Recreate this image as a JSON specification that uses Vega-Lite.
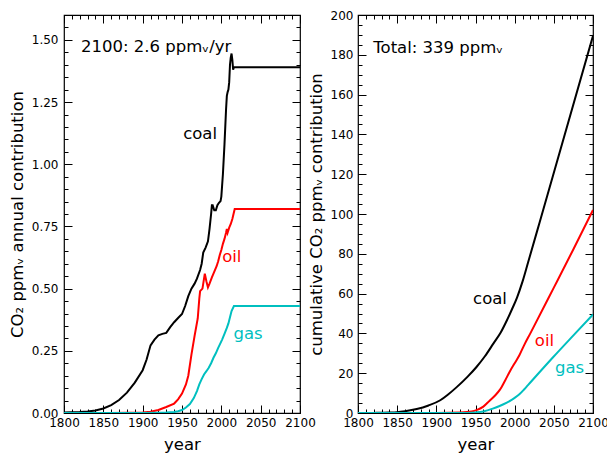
{
  "$schema": "https://vega.github.io/schema/vega-lite/v6.json",
  "background": "white",
  "padding": {"left": 8, "top": 8, "right": 0, "bottom": 0},
  "config": {
    "font": "DejaVu Sans",
    "view": {"stroke": "black", "strokeWidth": 1.2},
    "axis": {
      "domain": false, "grid": false,
      "tickColor": "black", "tickWidth": 1,
      "labelColor": "black", "labelFontSize": 12, "labelFont": "DejaVu Sans",
      "titleFont": "DejaVu Sans", "titleFontSize": 16.5, "titleFontWeight": "normal", "titleColor": "black",
      "labelOverlap": false, "labelFlush": false
    },
    "text": {"font": "DejaVu Sans", "fontSize": 16.5}
  },
  "datasets": {
    "annual": [
      {"fuel": "coal", "year": 1800, "value": 0.002},
      {"fuel": "coal", "year": 1810, "value": 0.003},
      {"fuel": "coal", "year": 1820, "value": 0.004},
      {"fuel": "coal", "year": 1830, "value": 0.006},
      {"fuel": "coal", "year": 1840, "value": 0.010},
      {"fuel": "coal", "year": 1850, "value": 0.018},
      {"fuel": "coal", "year": 1860, "value": 0.032},
      {"fuel": "coal", "year": 1870, "value": 0.052},
      {"fuel": "coal", "year": 1880, "value": 0.082},
      {"fuel": "coal", "year": 1890, "value": 0.122},
      {"fuel": "coal", "year": 1900, "value": 0.172},
      {"fuel": "coal", "year": 1905, "value": 0.215},
      {"fuel": "coal", "year": 1910, "value": 0.272},
      {"fuel": "coal", "year": 1915, "value": 0.295},
      {"fuel": "coal", "year": 1920, "value": 0.312},
      {"fuel": "coal", "year": 1925, "value": 0.318},
      {"fuel": "coal", "year": 1930, "value": 0.322},
      {"fuel": "coal", "year": 1935, "value": 0.345},
      {"fuel": "coal", "year": 1940, "value": 0.365},
      {"fuel": "coal", "year": 1945, "value": 0.382},
      {"fuel": "coal", "year": 1950, "value": 0.398},
      {"fuel": "coal", "year": 1954, "value": 0.43},
      {"fuel": "coal", "year": 1958, "value": 0.47},
      {"fuel": "coal", "year": 1962, "value": 0.50},
      {"fuel": "coal", "year": 1966, "value": 0.52},
      {"fuel": "coal", "year": 1969, "value": 0.54},
      {"fuel": "coal", "year": 1973, "value": 0.575},
      {"fuel": "coal", "year": 1975, "value": 0.60},
      {"fuel": "coal", "year": 1977, "value": 0.645},
      {"fuel": "coal", "year": 1980, "value": 0.665},
      {"fuel": "coal", "year": 1983, "value": 0.69},
      {"fuel": "coal", "year": 1985, "value": 0.74},
      {"fuel": "coal", "year": 1987, "value": 0.80},
      {"fuel": "coal", "year": 1988, "value": 0.835},
      {"fuel": "coal", "year": 1989, "value": 0.835},
      {"fuel": "coal", "year": 1991, "value": 0.815},
      {"fuel": "coal", "year": 1993, "value": 0.815},
      {"fuel": "coal", "year": 1995, "value": 0.835},
      {"fuel": "coal", "year": 1997, "value": 0.845},
      {"fuel": "coal", "year": 1999, "value": 0.852},
      {"fuel": "coal", "year": 2000, "value": 0.87},
      {"fuel": "coal", "year": 2002, "value": 0.96},
      {"fuel": "coal", "year": 2004, "value": 1.08},
      {"fuel": "coal", "year": 2006, "value": 1.22},
      {"fuel": "coal", "year": 2007, "value": 1.275},
      {"fuel": "coal", "year": 2008, "value": 1.29},
      {"fuel": "coal", "year": 2009, "value": 1.30},
      {"fuel": "coal", "year": 2010, "value": 1.33},
      {"fuel": "coal", "year": 2011, "value": 1.40},
      {"fuel": "coal", "year": 2012, "value": 1.43},
      {"fuel": "coal", "year": 2013, "value": 1.445},
      {"fuel": "coal", "year": 2014, "value": 1.42},
      {"fuel": "coal", "year": 2015, "value": 1.38},
      {"fuel": "coal", "year": 2016, "value": 1.39},
      {"fuel": "coal", "year": 2100, "value": 1.39},
      {"fuel": "oil", "year": 1800, "value": 0},
      {"fuel": "oil", "year": 1860, "value": 0},
      {"fuel": "oil", "year": 1880, "value": 0.001},
      {"fuel": "oil", "year": 1900, "value": 0.002},
      {"fuel": "oil", "year": 1910, "value": 0.005},
      {"fuel": "oil", "year": 1920, "value": 0.012},
      {"fuel": "oil", "year": 1930, "value": 0.024},
      {"fuel": "oil", "year": 1940, "value": 0.038},
      {"fuel": "oil", "year": 1945, "value": 0.055},
      {"fuel": "oil", "year": 1950, "value": 0.078},
      {"fuel": "oil", "year": 1955, "value": 0.115},
      {"fuel": "oil", "year": 1958, "value": 0.15},
      {"fuel": "oil", "year": 1962, "value": 0.235},
      {"fuel": "oil", "year": 1966, "value": 0.31},
      {"fuel": "oil", "year": 1970, "value": 0.38},
      {"fuel": "oil", "year": 1972, "value": 0.46},
      {"fuel": "oil", "year": 1973, "value": 0.49},
      {"fuel": "oil", "year": 1976, "value": 0.50},
      {"fuel": "oil", "year": 1979, "value": 0.56},
      {"fuel": "oil", "year": 1981, "value": 0.53},
      {"fuel": "oil", "year": 1983, "value": 0.505},
      {"fuel": "oil", "year": 1985, "value": 0.52},
      {"fuel": "oil", "year": 1988, "value": 0.545},
      {"fuel": "oil", "year": 1990, "value": 0.56},
      {"fuel": "oil", "year": 1992, "value": 0.575},
      {"fuel": "oil", "year": 1994, "value": 0.59},
      {"fuel": "oil", "year": 1996, "value": 0.61},
      {"fuel": "oil", "year": 1998, "value": 0.635},
      {"fuel": "oil", "year": 2000, "value": 0.655},
      {"fuel": "oil", "year": 2002, "value": 0.68},
      {"fuel": "oil", "year": 2004, "value": 0.70},
      {"fuel": "oil", "year": 2006, "value": 0.725},
      {"fuel": "oil", "year": 2007, "value": 0.74},
      {"fuel": "oil", "year": 2008, "value": 0.725},
      {"fuel": "oil", "year": 2010, "value": 0.745},
      {"fuel": "oil", "year": 2012, "value": 0.76},
      {"fuel": "oil", "year": 2014, "value": 0.78},
      {"fuel": "oil", "year": 2017, "value": 0.82},
      {"fuel": "oil", "year": 2100, "value": 0.82},
      {"fuel": "gas", "year": 1800, "value": 0},
      {"fuel": "gas", "year": 1900, "value": 0},
      {"fuel": "gas", "year": 1920, "value": 0.001},
      {"fuel": "gas", "year": 1930, "value": 0.002},
      {"fuel": "gas", "year": 1940, "value": 0.004},
      {"fuel": "gas", "year": 1945, "value": 0.007},
      {"fuel": "gas", "year": 1950, "value": 0.012},
      {"fuel": "gas", "year": 1955, "value": 0.022},
      {"fuel": "gas", "year": 1960, "value": 0.036},
      {"fuel": "gas", "year": 1965, "value": 0.06},
      {"fuel": "gas", "year": 1969, "value": 0.088},
      {"fuel": "gas", "year": 1972, "value": 0.115},
      {"fuel": "gas", "year": 1975, "value": 0.136},
      {"fuel": "gas", "year": 1978, "value": 0.155},
      {"fuel": "gas", "year": 1981, "value": 0.168},
      {"fuel": "gas", "year": 1984, "value": 0.182},
      {"fuel": "gas", "year": 1987, "value": 0.20},
      {"fuel": "gas", "year": 1990, "value": 0.222},
      {"fuel": "gas", "year": 1993, "value": 0.24},
      {"fuel": "gas", "year": 1996, "value": 0.262},
      {"fuel": "gas", "year": 1998, "value": 0.275},
      {"fuel": "gas", "year": 2001, "value": 0.295},
      {"fuel": "gas", "year": 2004, "value": 0.318},
      {"fuel": "gas", "year": 2007, "value": 0.342},
      {"fuel": "gas", "year": 2009, "value": 0.36},
      {"fuel": "gas", "year": 2011, "value": 0.385},
      {"fuel": "gas", "year": 2013, "value": 0.41},
      {"fuel": "gas", "year": 2016, "value": 0.43},
      {"fuel": "gas", "year": 2100, "value": 0.43}
    ],
    "cumulative": [
      {"fuel": "coal", "year": 1800, "value": 0},
      {"fuel": "coal", "year": 1820, "value": 0.05},
      {"fuel": "coal", "year": 1840, "value": 0.2},
      {"fuel": "coal", "year": 1850, "value": 0.4},
      {"fuel": "coal", "year": 1860, "value": 0.9},
      {"fuel": "coal", "year": 1875, "value": 2.0},
      {"fuel": "coal", "year": 1890, "value": 3.8},
      {"fuel": "coal", "year": 1905, "value": 6.4},
      {"fuel": "coal", "year": 1915, "value": 9.3},
      {"fuel": "coal", "year": 1926, "value": 13},
      {"fuel": "coal", "year": 1940, "value": 18.3},
      {"fuel": "coal", "year": 1951, "value": 23},
      {"fuel": "coal", "year": 1962, "value": 28.5},
      {"fuel": "coal", "year": 1973, "value": 35},
      {"fuel": "coal", "year": 1982, "value": 40.3},
      {"fuel": "coal", "year": 1990, "value": 46.5},
      {"fuel": "coal", "year": 1997, "value": 52.5},
      {"fuel": "coal", "year": 2003, "value": 58},
      {"fuel": "coal", "year": 2010, "value": 66},
      {"fuel": "coal", "year": 2017, "value": 75.5},
      {"fuel": "coal", "year": 2032, "value": 96},
      {"fuel": "coal", "year": 2100, "value": 189.5},
      {"fuel": "oil", "year": 1800, "value": 0},
      {"fuel": "oil", "year": 1900, "value": 0.05},
      {"fuel": "oil", "year": 1930, "value": 0.3},
      {"fuel": "oil", "year": 1945, "value": 0.8},
      {"fuel": "oil", "year": 1952, "value": 1.6},
      {"fuel": "oil", "year": 1960, "value": 3.2},
      {"fuel": "oil", "year": 1968, "value": 6.2},
      {"fuel": "oil", "year": 1975, "value": 8.8},
      {"fuel": "oil", "year": 1981, "value": 11.6},
      {"fuel": "oil", "year": 1988, "value": 16.5},
      {"fuel": "oil", "year": 1994, "value": 21},
      {"fuel": "oil", "year": 2000, "value": 25},
      {"fuel": "oil", "year": 2006, "value": 29},
      {"fuel": "oil", "year": 2012, "value": 34},
      {"fuel": "oil", "year": 2020, "value": 40},
      {"fuel": "oil", "year": 2050, "value": 63},
      {"fuel": "oil", "year": 2075, "value": 82.3},
      {"fuel": "oil", "year": 2100, "value": 102},
      {"fuel": "gas", "year": 1800, "value": 0},
      {"fuel": "gas", "year": 1940, "value": 0.05},
      {"fuel": "gas", "year": 1950, "value": 0.3},
      {"fuel": "gas", "year": 1960, "value": 0.8},
      {"fuel": "gas", "year": 1972, "value": 2.2},
      {"fuel": "gas", "year": 1980, "value": 3.4},
      {"fuel": "gas", "year": 1990, "value": 5.2},
      {"fuel": "gas", "year": 2000, "value": 7.6},
      {"fuel": "gas", "year": 2006, "value": 9.4},
      {"fuel": "gas", "year": 2012, "value": 11.8},
      {"fuel": "gas", "year": 2017, "value": 14},
      {"fuel": "gas", "year": 2049, "value": 28},
      {"fuel": "gas", "year": 2075, "value": 39},
      {"fuel": "gas", "year": 2100, "value": 49.5}
    ],
    "labelsL": [
      {"fuel": "coal", "year": 1973, "value": 1.123, "text": "coal"},
      {"fuel": "oil", "year": 2013.3, "value": 0.626, "text": "oil"},
      {"fuel": "gas", "year": 2034, "value": 0.317, "text": "gas"}
    ],
    "notesL": [
      {"fuel": "note", "year": 1821.6, "value": 1.472, "text": "2100: 2.6 ppmᵥ/yr"}
    ],
    "labelsR": [
      {"fuel": "coal", "year": 1968.5, "value": 57.5, "text": "coal"},
      {"fuel": "oil", "year": 2038, "value": 36, "text": "oil"},
      {"fuel": "gas", "year": 2070, "value": 22.4, "text": "gas"}
    ],
    "notesR": [
      {"fuel": "note", "year": 1819.5, "value": 183.5, "text": "Total: 339 ppmᵥ"}
    ]
  },
  "bounds": "flush",
  "spacing": 58,
  "hconcat": [
    {
      "width": 236,
      "height": 398,
      "layer": [
        {
          "data": {"name": "annual"},
          "mark": {"type": "line", "strokeWidth": 2, "clip": true},
          "encoding": {
            "x": {"field": "year", "type": "quantitative",
              "scale": {"domain": [1800, 2100], "nice": false, "zero": false},
              "axis": {"orient": "bottom", "title": "year", "titlePadding": 4,
                "values": [1800,1810,1820,1830,1840,1850,1860,1870,1880,1890,1900,1910,1920,1930,1940,1950,1960,1970,1980,1990,2000,2010,2020,2030,2040,2050,2060,2070,2080,2090,2100],
                "format": "d",
                "labelExpr": "datum.value % 50 === 0 ? datum.label : ''",
                "tickSize": {"condition": {"test": "datum.value % 50 === 0", "value": -8}, "value": -4},
                "labelPadding": 12}},
            "y": {"field": "value", "type": "quantitative",
              "scale": {"domain": [0, 1.6], "nice": false},
              "axis": {"orient": "left", "title": "CO₂ ppmᵥ annual contribution", "titlePadding": 6,
                "values": [0,0.05,0.1,0.15,0.2,0.25,0.3,0.35,0.4,0.45,0.5,0.55,0.6,0.65,0.7,0.75,0.8,0.85,0.9,0.95,1,1.05,1.1,1.15,1.2,1.25,1.3,1.35,1.4,1.45,1.5,1.55,1.6],
                "format": ".2f",
                "labelExpr": "abs(datum.value*4 - round(datum.value*4)) < 0.001 ? datum.label : ''",
                "tickSize": {"condition": {"test": "abs(datum.value*4 - round(datum.value*4)) < 0.001", "value": -8}, "value": -4},
                "labelPadding": 14}},
            "color": {"field": "fuel", "type": "nominal",
              "scale": {"domain": ["coal", "oil", "gas", "note"], "range": ["black", "#ff0000", "#00bfbf", "black"]},
              "legend": null}
          }
        },
        {
          "data": {"name": "labelsL"},
          "mark": {"type": "text", "align": "center", "baseline": "middle"},
          "encoding": {
            "x": {"field": "year", "type": "quantitative",
              "axis": {"orient": "top", "title": null, "labels": false,
                "values": [1800,1810,1820,1830,1840,1850,1860,1870,1880,1890,1900,1910,1920,1930,1940,1950,1960,1970,1980,1990,2000,2010,2020,2030,2040,2050,2060,2070,2080,2090,2100],
                "tickSize": {"condition": {"test": "datum.value % 50 === 0", "value": -8}, "value": -4}}},
            "y": {"field": "value", "type": "quantitative",
              "axis": {"orient": "right", "title": null, "labels": false,
                "values": [0,0.05,0.1,0.15,0.2,0.25,0.3,0.35,0.4,0.45,0.5,0.55,0.6,0.65,0.7,0.75,0.8,0.85,0.9,0.95,1,1.05,1.1,1.15,1.2,1.25,1.3,1.35,1.4,1.45,1.5,1.55,1.6],
                "tickSize": {"condition": {"test": "abs(datum.value*4 - round(datum.value*4)) < 0.001", "value": -8}, "value": -4}}},
            "text": {"field": "text"},
            "color": {"field": "fuel", "type": "nominal", "legend": null}
          }
        },
        {
          "data": {"name": "notesL"},
          "mark": {"type": "text", "align": "left", "baseline": "middle"},
          "encoding": {
            "x": {"field": "year", "type": "quantitative", "axis": null},
            "y": {"field": "value", "type": "quantitative", "axis": null},
            "text": {"field": "text"},
            "color": {"field": "fuel", "type": "nominal", "legend": null}
          }
        }
      ]
    },
    {
      "width": 235,
      "height": 398,
      "layer": [
        {
          "data": {"name": "cumulative"},
          "mark": {"type": "line", "strokeWidth": 2, "clip": true, "interpolate": "monotone"},
          "encoding": {
            "x": {"field": "year", "type": "quantitative",
              "scale": {"domain": [1800, 2100], "nice": false, "zero": false},
              "axis": {"orient": "bottom", "title": "year", "titlePadding": 4,
                "values": [1800,1810,1820,1830,1840,1850,1860,1870,1880,1890,1900,1910,1920,1930,1940,1950,1960,1970,1980,1990,2000,2010,2020,2030,2040,2050,2060,2070,2080,2090,2100],
                "format": "d",
                "labelExpr": "datum.value % 50 === 0 ? datum.label : ''",
                "tickSize": {"condition": {"test": "datum.value % 50 === 0", "value": -8}, "value": -4},
                "labelPadding": 12}},
            "y": {"field": "value", "type": "quantitative",
              "scale": {"domain": [0, 200], "nice": false},
              "axis": {"orient": "left", "title": "cumulative CO₂ ppmᵥ contribution", "titlePadding": 6,
                "values": [0,5,10,15,20,25,30,35,40,45,50,55,60,65,70,75,80,85,90,95,100,105,110,115,120,125,130,135,140,145,150,155,160,165,170,175,180,185,190,195,200],
                "format": "d",
                "labelExpr": "datum.value % 20 === 0 ? datum.label : ''",
                "tickSize": {"condition": {"test": "datum.value % 20 === 0", "value": -8}, "value": -4},
                "labelPadding": 13}},
            "color": {"field": "fuel", "type": "nominal",
              "scale": {"domain": ["coal", "oil", "gas", "note"], "range": ["black", "#ff0000", "#00bfbf", "black"]},
              "legend": null}
          }
        },
        {
          "data": {"name": "labelsR"},
          "mark": {"type": "text", "align": "center", "baseline": "middle"},
          "encoding": {
            "x": {"field": "year", "type": "quantitative",
              "axis": {"orient": "top", "title": null, "labels": false,
                "values": [1800,1810,1820,1830,1840,1850,1860,1870,1880,1890,1900,1910,1920,1930,1940,1950,1960,1970,1980,1990,2000,2010,2020,2030,2040,2050,2060,2070,2080,2090,2100],
                "tickSize": {"condition": {"test": "datum.value % 50 === 0", "value": -8}, "value": -4}}},
            "y": {"field": "value", "type": "quantitative",
              "axis": {"orient": "right", "title": null, "labels": false,
                "values": [0,5,10,15,20,25,30,35,40,45,50,55,60,65,70,75,80,85,90,95,100,105,110,115,120,125,130,135,140,145,150,155,160,165,170,175,180,185,190,195,200],
                "tickSize": {"condition": {"test": "datum.value % 20 === 0", "value": -8}, "value": -4}}},
            "text": {"field": "text"},
            "color": {"field": "fuel", "type": "nominal", "legend": null}
          }
        },
        {
          "data": {"name": "notesR"},
          "mark": {"type": "text", "align": "left", "baseline": "middle"},
          "encoding": {
            "x": {"field": "year", "type": "quantitative", "axis": null},
            "y": {"field": "value", "type": "quantitative", "axis": null},
            "text": {"field": "text"},
            "color": {"field": "fuel", "type": "nominal", "legend": null}
          }
        }
      ]
    }
  ]
}
